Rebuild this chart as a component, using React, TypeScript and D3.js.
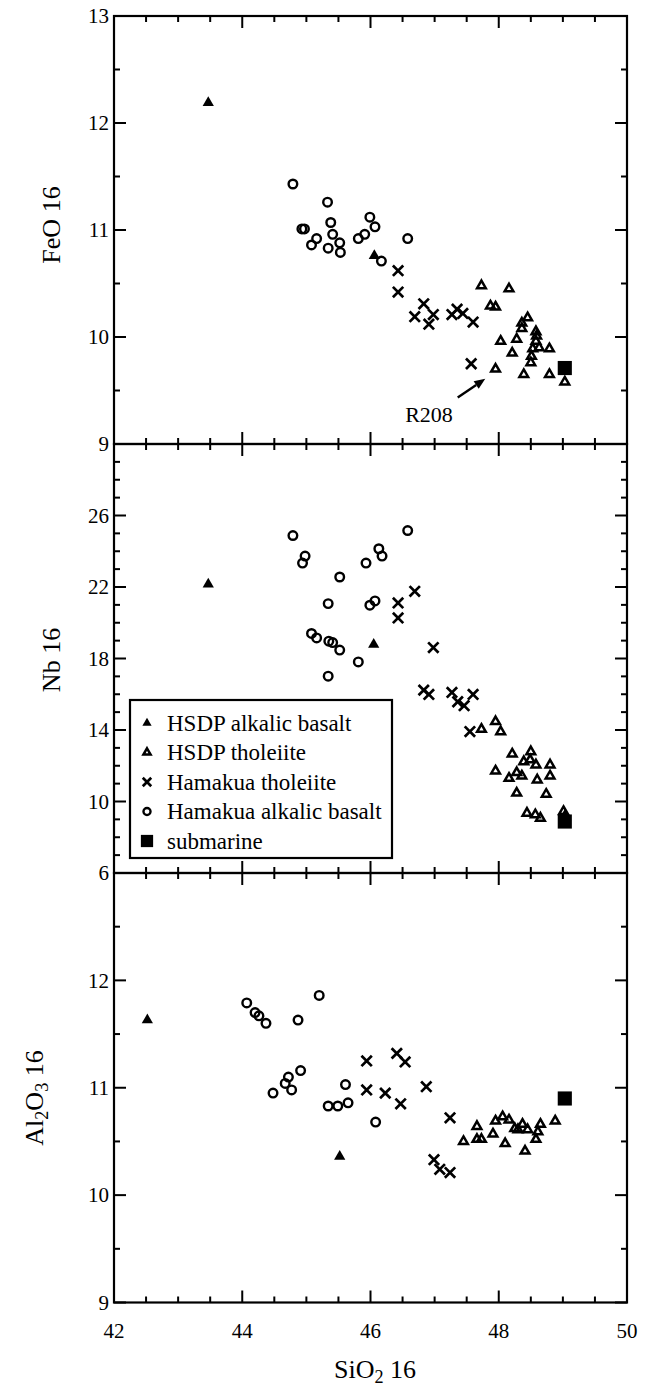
import React, { useEffect } from "react";
import * as d3 from "d3";

// ---------- DATA ----------
// [SiO2, value]
const feoHsdpAlkalic: [number, number][] = [[43.47, 12.19], [46.06, 10.76]];
const feoHsdpThol: [number, number][] = [
  [47.73, 10.48], [48.16, 10.45], [47.87, 10.29], [47.95, 10.28], [48.45, 10.18],
  [48.36, 10.13], [48.36, 10.08], [48.58, 10.05], [48.59, 10.01], [48.03, 9.96],
  [48.28, 9.98], [48.58, 9.96], [48.63, 9.9], [48.53, 9.89], [48.79, 9.89],
  [48.21, 9.85], [48.51, 9.82], [48.5, 9.76], [47.95, 9.7], [48.39, 9.65],
  [48.79, 9.65], [49.03, 9.58],
];
const feoHamakuaThol: [number, number][] = [
  [46.43, 10.62], [46.43, 10.42], [46.83, 10.31], [46.69, 10.19], [46.91, 10.12],
  [46.98, 10.21], [47.27, 10.21], [47.35, 10.26], [47.44, 10.22], [47.6, 10.14],
  [47.57, 9.75],
];
const feoHamakuaAlk: [number, number][] = [
  [44.79, 11.43], [45.33, 11.26], [44.93, 11.01], [44.97, 11.01], [45.16, 10.92],
  [45.08, 10.86], [45.34, 10.83], [45.38, 11.07], [45.41, 10.96], [45.52, 10.88],
  [45.53, 10.79], [45.81, 10.92], [45.91, 10.96], [45.99, 11.12], [46.07, 11.03],
  [46.17, 10.71], [46.58, 10.92],
];
const feoSubmarine: [number, number][] = [[49.03, 9.71]];

const nbHsdpAlkalic: [number, number][] = [[43.47, 22.15], [46.05, 18.78]];
const nbHsdpThol: [number, number][] = [
  [47.73, 14.04], [47.95, 14.47], [48.03, 13.91], [48.21, 12.66], [47.95, 11.71],
  [48.16, 11.3], [48.28, 11.62], [48.36, 11.43], [48.5, 12.79], [48.39, 12.23],
  [48.49, 12.33], [48.58, 12.05], [48.8, 12.05], [48.8, 11.43], [48.6, 11.21],
  [48.28, 10.47], [48.74, 10.41], [48.44, 9.35], [48.57, 9.26], [48.65, 9.07],
  [49.01, 9.44], [49.03, 9.16],
];
const nbHamakuaThol: [number, number][] = [
  [46.43, 21.11], [46.43, 20.27], [46.69, 21.76], [46.98, 18.61], [46.83, 16.23],
  [46.91, 15.99], [47.27, 16.1], [47.36, 15.58], [47.46, 15.36], [47.6, 15.99],
  [47.55, 13.91],
];
const nbHamakuaAlk: [number, number][] = [
  [44.79, 24.88], [44.98, 23.73], [44.94, 23.34], [45.52, 22.56], [45.34, 21.07],
  [45.93, 23.34], [46.13, 24.14], [46.18, 23.73], [45.99, 20.98], [46.07, 21.22],
  [46.58, 25.16], [45.08, 19.4], [45.16, 19.15], [45.35, 18.97], [45.41, 18.89],
  [45.52, 18.47], [45.81, 17.81], [45.34, 17.01],
];
const nbSubmarine: [number, number][] = [[49.03, 8.88]];

const alHsdpAlkalic: [number, number][] = [[42.52, 11.63], [45.52, 10.36]];
const alHsdpThol: [number, number][] = [
  [47.45, 10.5], [47.66, 10.64], [47.66, 10.52], [47.73, 10.52], [47.91, 10.57],
  [47.95, 10.69], [48.06, 10.73], [48.16, 10.7], [48.1, 10.48], [48.25, 10.62],
  [48.3, 10.61], [48.37, 10.66], [48.45, 10.61], [48.41, 10.41], [48.58, 10.52],
  [48.61, 10.59], [48.65, 10.66], [48.88, 10.69],
];
const alHamakuaThol: [number, number][] = [
  [45.94, 11.25], [46.41, 11.32], [46.54, 11.24], [45.94, 10.98], [46.23, 10.95],
  [46.47, 10.85], [46.87, 11.01], [47.24, 10.72], [46.99, 10.33], [47.08, 10.24],
  [47.24, 10.21],
];
const alHamakuaAlk: [number, number][] = [
  [44.07, 11.79], [44.2, 11.7], [44.26, 11.67], [44.37, 11.6], [45.2, 11.86],
  [44.87, 11.63], [44.91, 11.16], [44.72, 11.1], [44.67, 11.04], [44.77, 10.98],
  [44.48, 10.95], [45.61, 11.03], [45.34, 10.83], [45.49, 10.83], [45.65, 10.86],
  [46.08, 10.68],
];
const alSubmarine: [number, number][] = [[49.03, 10.9]];

const xDomain: [number, number] = [42, 50];
const xTickLabels = [42, 44, 46, 48, 50];
const feoTickLabels = [13, 12, 11, 10, 9];
const nbTickLabels = [26, 22, 18, 14, 10, 6];
const alTickLabels = [12, 11, 10, 9];

const legendLabels = [
  "HSDP alkalic basalt",
  "HSDP tholeiite",
  "Hamakua tholeiite",
  "Hamakua alkalic basalt",
  "submarine",
];

// annotation (data units of the FeO panel)
const r208Text: [number, number] = [46.54, 9.206];
const r208ArrowTail: [number, number] = [47.36, 9.435];
const r208ArrowHead: [number, number] = [47.79, 9.61];

// ---------- LAYOUT ----------
const W = 649;
const H = 1386;
const LEFT = 114;
const RIGHT = 627;
const FONT = "'Liberation Serif', 'Times New Roman', Times, serif";

type Kind = "hsdpAlk" | "hsdpThol" | "hamThol" | "hamAlk" | "sub";

interface Panel {
  top: number;
  bottom: number;
  domain: [number, number];
  minorStep: number;
  majors: number[];
  labels: number[];
  title: React.ReactNode;
  titleX: number;
  titleY: number;
  series: { kind: Kind; data: [number, number][] }[];
}

const x = d3.scaleLinear().domain(xDomain).range([LEFT, RIGHT]);

function range(a: number, b: number, step: number) {
  const out: number[] = [];
  for (let v = a; v <= b + 1e-9; v += step) out.push(+v.toFixed(4));
  return out;
}

function Marker({ kind, cx, cy, legend = false }: { kind: Kind; cx: number; cy: number; legend?: boolean }) {
  const s = legend ? 0.82 : 1;
  if (kind === "hsdpAlk") {
    const p = d3.symbol(d3.symbolTriangle, 55 * s * s)() as string;
    return <path d={p} transform={`translate(${cx},${cy})`} fill="#000" />;
  }
  if (kind === "hsdpThol") {
    const p = d3.symbol(d3.symbolTriangle, 33 * s * s)() as string;
    return (
      <path d={p} transform={`translate(${cx},${cy})`} fill="none" stroke="#000" strokeWidth={2.5} strokeLinejoin="miter" />
    );
  }
  if (kind === "hamThol") {
    const p = d3.symbol(d3.symbolX, 72 * s * s)() as string;
    return <path d={p} transform={`translate(${cx},${cy})`} fill="none" stroke="#000" strokeWidth={2.7} />;
  }
  if (kind === "hamAlk") {
    const p = d3.symbol(d3.symbolCircle, 58 * s * s)() as string;
    return <path d={p} transform={`translate(${cx},${cy})`} fill="none" stroke="#000" strokeWidth={2.4} />;
  }
  const p = d3.symbol(d3.symbolSquare, legend ? 150 : 200)() as string;
  return <path d={p} transform={`translate(${cx},${cy})`} fill="#000" />;
}

const panels: Panel[] = [
  {
    top: 16,
    bottom: 444,
    domain: [9, 13],
    minorStep: 0.5,
    majors: range(9, 13, 1),
    labels: feoTickLabels,
    title: <>FeO 16</>,
    titleX: 60,
    titleY: 225,
    series: [
      { kind: "hamAlk", data: feoHamakuaAlk },
      { kind: "hamThol", data: feoHamakuaThol },
      { kind: "hsdpThol", data: feoHsdpThol },
      { kind: "hsdpAlk", data: feoHsdpAlkalic },
      { kind: "sub", data: feoSubmarine },
    ],
  },
  {
    top: 444,
    bottom: 873,
    domain: [6, 30],
    minorStep: 1,
    majors: range(6, 30, 4),
    labels: nbTickLabels,
    title: <>Nb 16</>,
    titleX: 60,
    titleY: 660,
    series: [
      { kind: "hamAlk", data: nbHamakuaAlk },
      { kind: "hamThol", data: nbHamakuaThol },
      { kind: "hsdpThol", data: nbHsdpThol },
      { kind: "hsdpAlk", data: nbHsdpAlkalic },
      { kind: "sub", data: nbSubmarine },
    ],
  },
  {
    top: 873,
    bottom: 1302.5,
    domain: [9, 13],
    minorStep: 0.5,
    majors: range(9, 13, 1),
    labels: alTickLabels,
    title: (
      <>
        Al<tspan dy={5} fontSize="70%">2</tspan>
        <tspan dy={-5}>O</tspan>
        <tspan dy={5} fontSize="70%">3</tspan>
        <tspan dy={-5}> 16</tspan>
      </>
    ),
    titleX: 43,
    titleY: 1098,
    series: [
      { kind: "hamAlk", data: alHamakuaAlk },
      { kind: "hamThol", data: alHamakuaThol },
      { kind: "hsdpThol", data: alHsdpThol },
      { kind: "hsdpAlk", data: alHsdpAlkalic },
      { kind: "sub", data: alSubmarine },
    ],
  },
];

const MAJOR = 12;
const MINOR = 6;

function PanelView({ p, index }: { p: Panel; index: number }) {
  const y = d3.scaleLinear().domain(p.domain).range([p.bottom, p.top]);
  const yTicks = range(p.domain[0], p.domain[1], p.minorStep);
  const xTicks = range(xDomain[0], xDomain[1], 0.5);
  const isMajorY = (v: number) => p.majors.some((m) => Math.abs(m - v) < 1e-6);
  const isMajorX = (v: number) => xTickLabels.some((m) => Math.abs(m - v) < 1e-6);
  const tick = { stroke: "#000", strokeWidth: 2 };
  return (
    <g>
      {yTicks.map((v, i) => {
        const len = isMajorY(v) ? MAJOR : MINOR;
        const yy = y(v);
        return (
          <g key={"y" + i}>
            <line x1={LEFT} x2={LEFT + len} y1={yy} y2={yy} {...tick} />
            <line x1={RIGHT} x2={RIGHT - len} y1={yy} y2={yy} {...tick} />
          </g>
        );
      })}
      {xTicks.map((v, i) => {
        const len = isMajorX(v) && v !== 42 && v !== 50 ? MAJOR : MINOR;
        const xx = x(v);
        return (
          <g key={"x" + i}>
            <line x1={xx} x2={xx} y1={p.top} y2={p.top + len} {...tick} />
            <line x1={xx} x2={xx} y1={p.bottom} y2={p.bottom - len} {...tick} />
          </g>
        );
      })}
      <rect x={LEFT} y={p.top} width={RIGHT - LEFT} height={p.bottom - p.top} fill="none" stroke="#000" strokeWidth={2.2} />
      {p.labels.map((v) => (
        <text key={"l" + v} x={109} y={y(v)} dy="0.35em" textAnchor="end" fontSize={21} fontFamily={FONT}>
          {v}
        </text>
      ))}
      <text
        transform={`translate(${p.titleX},${p.titleY}) rotate(-90)`}
        textAnchor="middle"
        fontSize={26}
        fontFamily={FONT}
      >
        {p.title}
      </text>
      {p.series.map((s, si) => (
        <g key={"s" + si}>
          {s.data.map((d, di) => (
            <Marker key={di} kind={s.kind} cx={x(d[0])} cy={y(d[1])} />
          ))}
        </g>
      ))}
      {index === 0 && <Annotation y={y} />}
    </g>
  );
}

function Annotation({ y }: { y: d3.ScaleLinear<number, number> }) {
  const tx = x(r208ArrowTail[0]);
  const ty = y(r208ArrowTail[1]);
  const hx = x(r208ArrowHead[0]);
  const hy = y(r208ArrowHead[1]);
  const ang = Math.atan2(hy - ty, hx - tx);
  const L = 11;
  const Wd = 4.5;
  const bx = hx - L * Math.cos(ang);
  const by = hy - L * Math.sin(ang);
  const px = -Math.sin(ang) * Wd;
  const py = Math.cos(ang) * Wd;
  return (
    <g>
      <line x1={tx} y1={ty} x2={bx} y2={by} stroke="#000" strokeWidth={2.4} />
      <path d={`M${hx},${hy}L${bx + px},${by + py}L${bx - px},${by - py}Z`} fill="#000" />
      <text x={x(r208Text[0])} y={y(r208Text[1])} fontSize={22} fontFamily={FONT}>
        R208
      </text>
    </g>
  );
}

function Legend() {
  const lx = 130;
  const ly = 700;
  const lw = 262;
  const lh = 158;
  const kinds: Kind[] = ["hsdpAlk", "hsdpThol", "hamThol", "hamAlk", "sub"];
  return (
    <g>
      <rect x={lx} y={ly} width={lw} height={lh} fill="#fff" stroke="#000" strokeWidth={2.2} />
      {legendLabels.map((lab, i) => {
        const cy = 723 + i * 29.5;
        return (
          <g key={lab}>
            <Marker kind={kinds[i]} cx={147} cy={cy} legend />
            <text x={167} y={cy} dy="0.33em" fontSize={23} fontFamily={FONT}>
              {lab}
            </text>
          </g>
        );
      })}
    </g>
  );
}

export default function App() {
  useEffect(() => {
    document.body.style.margin = "0";
  }, []);
  return (
    <svg width={W} height={H} viewBox={`0 0 ${W} ${H}`} style={{ display: "block", background: "#fff" }}>
      <rect x={0} y={0} width={W} height={H} fill="#fff" />
      {panels.map((p, i) => (
        <PanelView key={i} p={p} index={i} />
      ))}
      <Legend />
      {xTickLabels.map((v) => (
        <text key={v} x={x(v)} y={1338} textAnchor="middle" fontSize={21} fontFamily={FONT}>
          {v}
        </text>
      ))}
      <text x={375} y={1378} textAnchor="middle" fontSize={26} fontFamily={FONT}>
        SiO<tspan dy={5} fontSize="70%">2</tspan>
        <tspan dy={-5}> 16</tspan>
      </text>
    </svg>
  );
}
